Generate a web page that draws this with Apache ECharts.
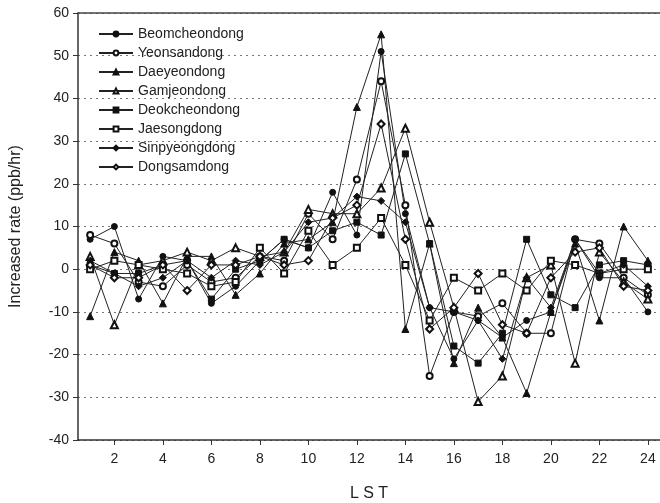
<!DOCTYPE html>
<html>
<head>
<meta charset="utf-8">
<script src="https://cdn.jsdelivr.net/npm/echarts@6/dist/echarts.min.js"></script>
<style>html,body{margin:0;padding:0;background:#fff;}#c{width:660px;height:503px;}</style>
</head>
<body>
<div id="c"></div>
<script>
var hours = [1,2,3,4,5,6,7,8,9,10,11,12,13,14,15,16,17,18,19,20,21,22,23,24];
var xTicks = [2,4,6,8,10,12,14,16,18,20,22,24];
var seriesNames = ['Beomcheondong','Yeonsandong','Daeyeondong','Gamjeondong','Deokcheondong','Jaesongdong','Sinpyeongdong','Dongsamdong'];
var beomcheondong = [7,10,-7,3,2,-8,-4,2,7,5,18,8,51,13,-9,-21,-12,-16,-12,-10,7,-2,-2,-10];
var yeonsandong   = [8,6,-3,-4,1,-3,-2,3,2,13,7,21,44,15,-25,-10,-11,-8,-15,-15,7,6,-2,-6];
var daeyeondong   = [-11,4,2,-8,3,3,-6,-1,6,7,11,38,55,-14,6,-22,-9,-16,-29,-10,6,-12,10,2];
var gamjeondong   = [3,-13,1,2,4,2,5,3,4,14,13,13,19,33,11,-9,-31,-25,-2,1,-22,4,-3,-7];
var deokcheondong = [1,-1,-1,1,2,-7,0,2,7,5,9,11,8,27,6,-18,-22,-15,7,-6,-9,1,2,1];
var jaesongdong   = [0,2,1,0,-1,-4,-3,5,-1,9,1,5,12,1,-12,-2,-5,-1,-5,2,1,-1,0,0];
var sinpyeongdong = [2,-1,-4,-2,2,-2,2,1,4,11,12,17,16,11,-9,-10,-12,-21,-2,-9,7,-1,1,-4];
var dongsamdong   = [1,-2,-2,1,-5,1,1,3,1,2,12,15,34,7,-14,-9,-1,-13,-15,-2,4,5,-4,-5];
var values = [beomcheondong,yeonsandong,daeyeondong,gamjeondong,deokcheondong,jaesongdong,sinpyeongdong,dongsamdong];
var symbols = ['circle','emptyCircle','triangle','emptyTriangle','rect','emptyRect','diamond','emptyDiamond'];
var sizes = [6,6,7,7,6,6,7,7];

var series = seriesNames.map(function(n,i){
  return {
    name: n, type: 'line',
    data: hours.map(function(h,j){return [h, values[i][j]];}),
    symbol: symbols[i], symbolSize: sizes[i], showAllSymbol: true,
    lineStyle: {color:'#222', width:1},
    itemStyle: {color:'#111', borderColor:'#111', borderWidth:1},
    emphasis: {disabled:true},
    animation: false
  };
});

var chart = echarts.init(document.getElementById('c'), null, {renderer:'canvas'});
chart.setOption({
  backgroundColor:'#fff',
  animation:false,
  textStyle:{fontFamily:'Liberation Sans, Arial, sans-serif'},
  legend:{
    orient:'vertical', left:93, top:21,
    itemWidth:34, itemHeight:6, itemGap:3,
    textStyle:{fontSize:14, color:'#222', lineHeight:16, fontFamily:'Liberation Sans, Arial, sans-serif'},
    data: seriesNames
  },
  grid:{left:78, right:0, top:13, bottom:63, containLabel:false, outerBoundsMode:'none'},
  xAxis:[{
    type:'value', min:0.5, max:24.5,
    name:'L S T', nameLocation:'middle', nameGap:46,
    nameTextStyle:{fontSize:16, color:'#222'},
    axisLine:{show:true, onZero:false, lineStyle:{color:'#333', width:1.5}},
    axisTick:{show:true, customValues:xTicks, length:5, lineStyle:{color:'#333'}},
    axisLabel:{customValues:xTicks, fontSize:14, color:'#222', margin:12},
    splitLine:{show:false}
  },{
    type:'value', position:'top', min:0.5, max:24.5,
    axisLine:{show:true, onZero:false, lineStyle:{color:'#444', width:1.5}},
    axisTick:{show:false}, axisLabel:{show:false}, splitLine:{show:false}
  }],
  yAxis:{
    type:'value', min:-40, max:60, interval:10,
    name:'Increased rate (ppb/hr)', nameLocation:'middle', nameGap:54,
    nameTextStyle:{fontSize:16, color:'#222'},
    axisLine:{show:true, onZero:false, lineStyle:{color:'#333', width:1.5}},
    axisTick:{show:true, length:5, lineStyle:{color:'#333'}},
    axisLabel:{fontSize:14, color:'#222', margin:9},
    splitLine:{show:true, lineStyle:{type:[2,4], color:'#777', width:1}}
  },
  series: series
});
</script>
</body>
</html>
